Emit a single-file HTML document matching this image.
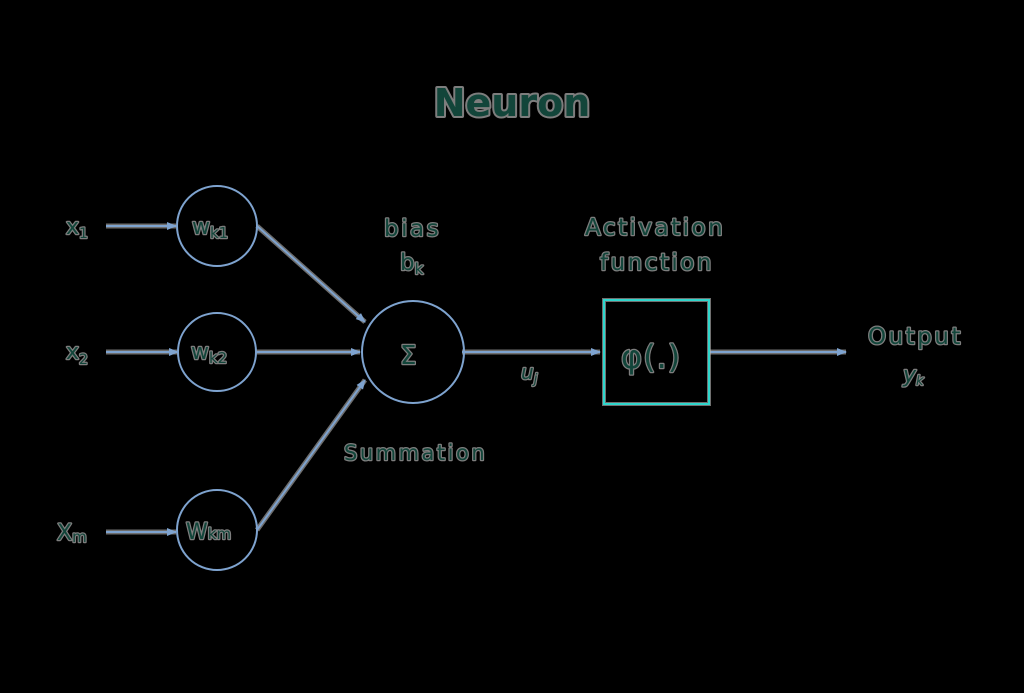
<!DOCTYPE html>
<html><head><style>
html,body{margin:0;padding:0;background:#000;}
svg{display:block}
text{font-family:"DejaVu Sans","Liberation Sans",sans-serif;fill:#12453a;stroke:#7d7d7d;stroke-width:2.5px;paint-order:stroke;stroke-linejoin:round}
.w{letter-spacing:2.5px}
</style></head><body>
<svg width="1024" height="693" viewBox="0 0 1024 693">
<defs>
<marker id="a" markerWidth="10" markerHeight="10" refX="9" refY="5" orient="auto" markerUnits="userSpaceOnUse">
<path d="M0,1 L10,5 L0,9 z" fill="#7ea3cf"/></marker>
</defs>
<rect width="1024" height="693" fill="#000"/>
<text x="512" y="116" font-size="38" font-weight="bold" text-anchor="middle" style="stroke-width:4px">Neuron</text>
<g stroke="#c8c8c8" stroke-width="5" fill="none" opacity="0.55">
<line x1="106" y1="226" x2="176" y2="226"/><line x1="106" y1="352" x2="178" y2="352"/><line x1="106" y1="532" x2="176" y2="532"/>
<line x1="256" y1="352" x2="360" y2="352"/><line x1="462" y1="352" x2="600" y2="352"/><line x1="710" y1="352" x2="846" y2="352"/>
<line x1="257" y1="226" x2="365" y2="322"/><line x1="257" y1="530" x2="365" y2="380"/>
</g>
<g stroke="#7ea3cf" stroke-width="2" fill="none">
<line x1="106" y1="226" x2="176" y2="226" marker-end="url(#a)"/>
<line x1="106" y1="352" x2="178" y2="352" marker-end="url(#a)"/>
<line x1="106" y1="532" x2="176" y2="532" marker-end="url(#a)"/>
<line x1="256" y1="352" x2="360" y2="352" marker-end="url(#a)"/>
<line x1="462" y1="352" x2="600" y2="352" marker-end="url(#a)"/>
<line x1="710" y1="352" x2="846" y2="352" marker-end="url(#a)"/>
<line x1="257" y1="226" x2="365" y2="322" marker-end="url(#a)"/>
<line x1="257" y1="530" x2="365" y2="380" marker-end="url(#a)"/>
<circle cx="217" cy="226" r="40"/>
<circle cx="217" cy="352" r="39"/>
<circle cx="217" cy="530" r="40"/>
<circle cx="413" cy="352" r="51"/>
</g>
<rect x="604" y="300" width="105" height="104" fill="none" stroke="#bbb" stroke-width="4" opacity="0.6"/>
<rect x="604" y="300" width="105" height="104" fill="none" stroke="#2ed6cc" stroke-width="2"/>
<g font-size="22">
<text x="66" y="234">x<tspan font-size="14" dy="4">1</tspan></text>
<text x="66" y="359">x<tspan font-size="14" dy="5">2</tspan></text>
<text x="57" y="540">X<tspan font-size="15" dy="2">m</tspan></text>
<text x="192" y="234">w<tspan font-size="15" dy="4">k1</tspan></text>
<text x="191" y="359">w<tspan font-size="15" dy="4">k2</tspan></text>
<text x="186" y="539">W<tspan font-size="15">km</tspan></text>
<text x="400" y="364" font-size="26">Σ</text>
<text class="w" x="384" y="236" font-size="23">bias</text>
<text x="400" y="270" font-size="23">b<tspan font-size="15" dy="4">k</tspan></text>
<text class="w" x="585" y="235" font-size="23">Activation</text>
<text class="w" x="600" y="270" font-size="23">function</text>
<text x="621" y="368" font-size="32" style="letter-spacing:1px">φ(.)</text>
<text x="521" y="379" font-size="20" font-style="italic">u<tspan font-size="13" dy="4">j</tspan></text>
<text class="w" x="344" y="460" font-size="21">Summation</text>
<text class="w" x="868" y="344" font-size="23">Output</text>
<text x="903" y="382" font-size="22" font-style="italic">y<tspan font-size="13" dy="3">k</tspan></text>
</g>
</svg>
</body></html>
